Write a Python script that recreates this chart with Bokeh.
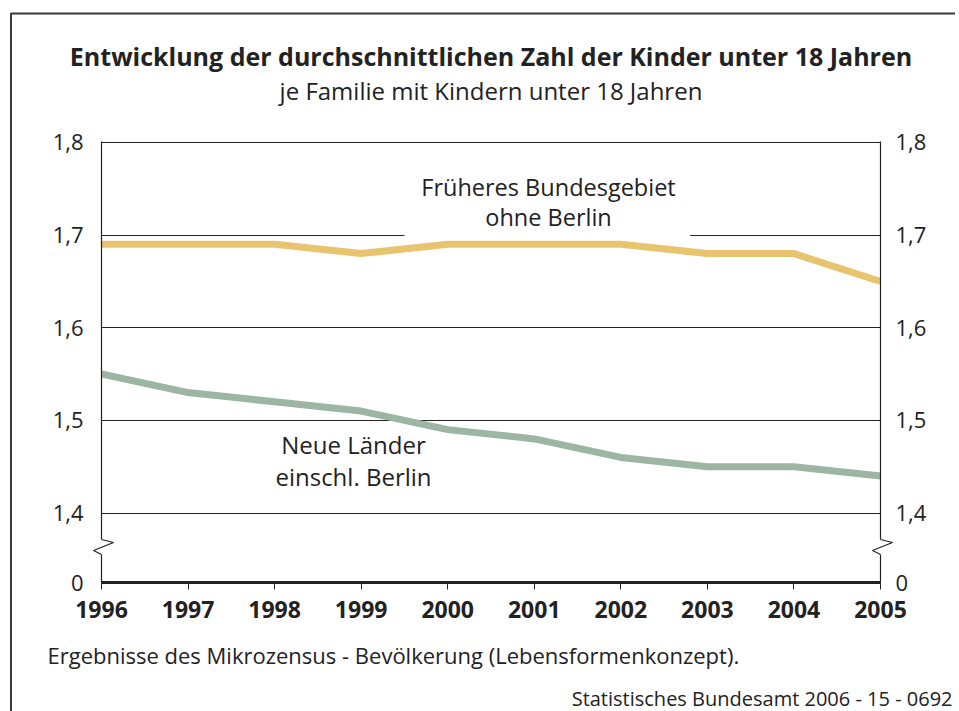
from bokeh.plotting import figure
from bokeh.models import Label, FixedTicker, LinearAxis, BoxAnnotation, Range1d, Title
from bokeh.embed import file_html
from bokeh.resources import INLINE

# ---- data ----
years = [1996, 1997, 1998, 1999, 2000, 2001, 2002, 2003, 2004, 2005]
frueheres_bundesgebiet = [1.69, 1.69, 1.69, 1.68, 1.69, 1.69, 1.69, 1.68, 1.68, 1.65]
neue_laender = [1.55, 1.53, 1.52, 1.51, 1.49, 1.48, 1.46, 1.45, 1.45, 1.44]
y_tick_values = [1.4, 1.5, 1.6, 1.7, 1.8]
y_tick_labels = ["1,4", "1,5", "1,6", "1,7", "1,8"]
zero_label = "0"

title = "Entwicklung der durchschnittlichen Zahl der Kinder unter 18 Jahren"
subtitle = "je Familie mit Kindern unter 18 Jahren"
label_west = ["Früheres Bundesgebiet", "ohne Berlin"]
label_east = ["Neue Länder", "einschl. Berlin"]
note = "Ergebnisse des Mikrozensus - Bevölkerung (Lebensformenkonzept)."
source = "Statistisches Bundesamt 2006 - 15 - 0692"

# axis break: the "0" sits just below 1,4
BREAK = 1.325
Y_TOP = y_tick_values[-1] + 0.001

FONT = "Open Sans"
TXT = "#222222"
YELLOW = "#e8c46e"
GREEN = "#9db5a3"

FRAME_W, FRAME_H = 779, 441
BORDER_R = 79
p = figure(width=951, height=700, output_backend="svg", toolbar_location=None,
           x_range=Range1d(years[0], years[-1]), y_range=Range1d(BREAK, Y_TOP),
           min_border_left=93, min_border_right=BORDER_R, min_border_top=130, min_border_bottom=129,
           outline_line_color=None, background_fill_color="white", border_fill_color="white")
p.styles = {"position": "relative", "left": "8px", "top": "11px",
            "clip-path": "inset(0px 4px 0px 0px)"}

overrides = {BREAK: zero_label}
overrides.update({v: l for v, l in zip(y_tick_values, y_tick_labels)})

def style_y(ax, standoff):
    ax.ticker = FixedTicker(ticks=[BREAK] + y_tick_values)
    ax.major_label_overrides = overrides
    ax.axis_line_color = TXT
    ax.axis_line_width = 1.2
    ax.major_tick_line_color = None
    ax.minor_tick_line_color = None
    ax.major_label_text_font = FONT
    ax.major_label_text_font_size = "22px"
    ax.major_label_text_color = TXT
    ax.major_label_standoff = standoff

style_y(p.yaxis[0], 12)
right_ax = LinearAxis()
style_y(right_ax, 9)
p.add_layout(right_ax, "right")

xa = p.xaxis[0]
xa.ticker = FixedTicker(ticks=years)
xa.axis_line_color = TXT
xa.axis_line_width = 3
xa.major_tick_out = 7
xa.major_tick_in = 0
xa.major_tick_line_color = TXT
xa.major_tick_line_width = 1
xa.minor_tick_line_color = None
xa.major_label_text_font = FONT
xa.major_label_text_font_style = "bold"
xa.major_label_text_font_size = "23px"
xa.major_label_text_color = TXT
xa.major_label_standoff = 11

p.xgrid.grid_line_color = None
p.ygrid.ticker = FixedTicker(ticks=y_tick_values)
p.ygrid.grid_line_color = TXT
p.ygrid.grid_line_width = 1

# gap in the 1,7 gridline behind the label
p.add_layout(BoxAnnotation(left=1999.5, right=2002.8, bottom=1.696, top=1.704,
                           fill_color="white", fill_alpha=1, line_color=None, level="underlay"))

p.line(years, frueheres_bundesgebiet, line_color=YELLOW, line_width=7)
p.line(years, neue_laender, line_color=GREEN, line_width=7)

# pixel helpers for decorations
PX_X = (years[-1] - years[0]) / FRAME_W
PX_Y = (Y_TOP - BREAK) / FRAME_H

# axis break zigzags
mid = BREAK + 36 * PX_Y
for x0 in (years[0], years[-1]):
    p.line([x0, x0], [mid + 7 * PX_Y, mid - 8 * PX_Y], line_color="white", line_width=4, level="overlay")
    zx = [x0, x0 + 12 * PX_X, x0 - 8 * PX_X, x0]
    zy = [mid + 7 * PX_Y, mid + 4 * PX_Y, mid - 4 * PX_Y, mid - 8 * PX_Y]
    p.line(zx, zy, line_color=TXT, line_width=1.2, level="overlay")

# outer frame of the graphic (left and top edges visible)
bx = years[0] - 90.5 * PX_X
by = Y_TOP + 128 * PX_Y
p.line([bx, bx, years[-1] + 120 * PX_X], [BREAK - 250 * PX_Y, by, by],
       line_color="#3a3a3a", line_width=2, level="overlay")

def lab(x, y, text, size):
    p.add_layout(Label(x=x, y=y, x_units="screen", y_units="screen", text=text,
                       text_align="center", text_baseline="alphabetic", text_font=FONT,
                       text_font_size=size, text_color=TXT))

lab(447, 396, label_west[0], "23.5px")
lab(447, 366, label_west[1], "23.5px")
lab(252, 138, label_east[0], "24px")
lab(252, 106, label_east[1], "24px")

def ttl(text, side, size, align, vertical_align, standoff, offset=0, style="normal"):
    p.add_layout(Title(text=text, align=align, vertical_align=vertical_align, standoff=standoff,
                       offset=offset, text_font=FONT, text_font_size=size, text_font_style=style,
                       text_color=TXT), side)

# spacer between frame and subtitle
ttl(" ", "above", "10px", "center", "top", 16.85)
ttl(subtitle, "above", "24px", "center", "top", 0)
ttl(title, "above", "25px", "center", "bottom", 1, style="bold")
ttl(note, "below", "22px", "left", "top", 38, offset=-54)
ttl(source, "below", "20px", "right", "top", -12, offset=-72)

open("out.html", "w").write(file_html(p, INLINE))
